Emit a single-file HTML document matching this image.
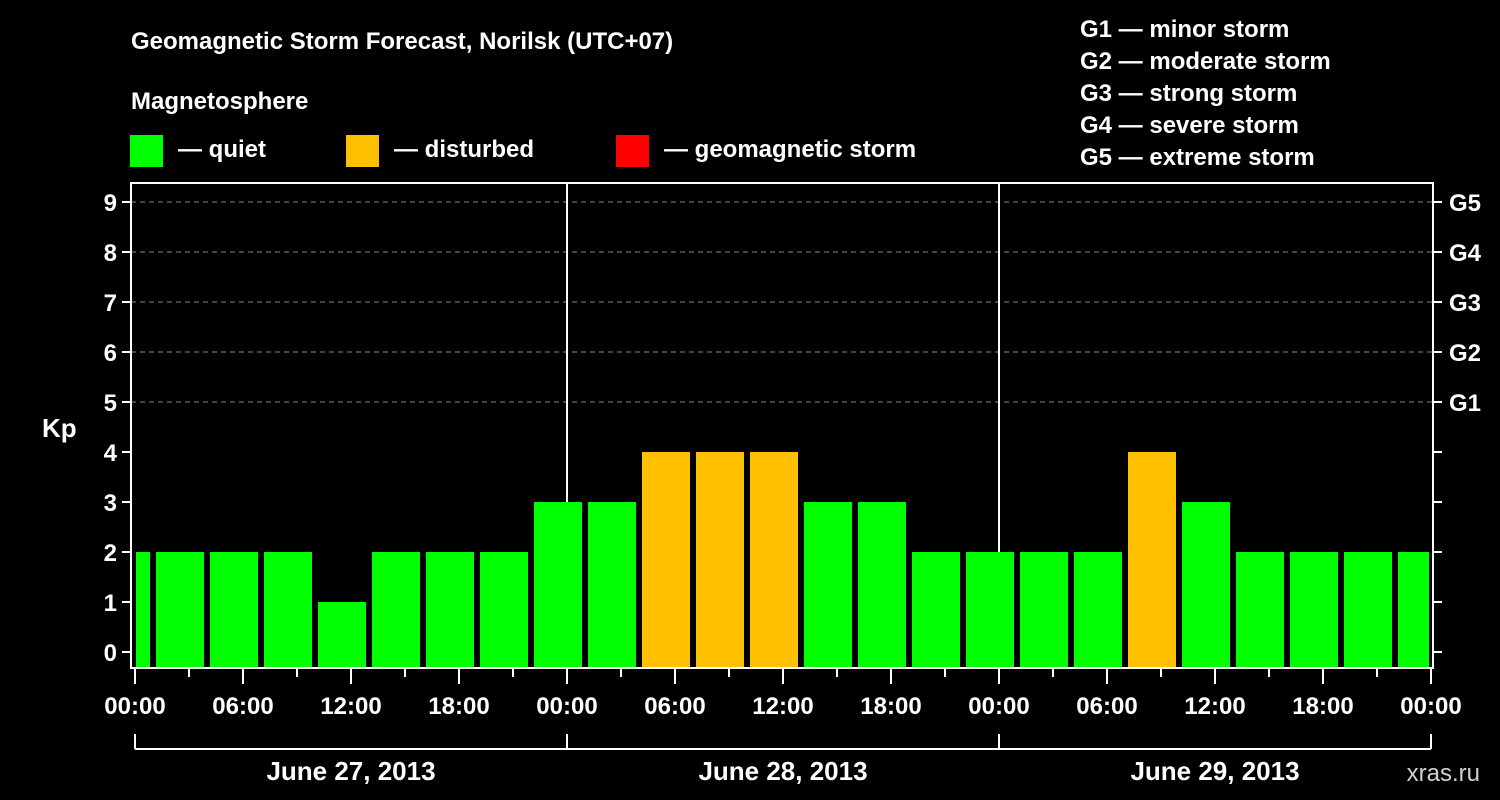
<!DOCTYPE html>
<html><head><meta charset="utf-8"><style>
html,body{margin:0;padding:0;background:#000;}
svg{display:block;font-family:"Liberation Sans",Arial,sans-serif;font-weight:bold;}
</style></head><body>
<svg id="chart" width="1500" height="800" viewBox="0 0 1500 800" xmlns="http://www.w3.org/2000/svg">
<rect width="1500" height="800" fill="#000"/>
<text x="131" y="49" fill="#fff" font-size="24">Geomagnetic Storm Forecast, Norilsk (UTC+07)</text>
<text x="131" y="109" fill="#fff" font-size="24">Magnetosphere</text>
<g>
<rect x="130" y="135" width="33" height="32" fill="#00ff00"/>
<text x="178" y="157" fill="#fff" font-size="24">— quiet</text></g>
<g>
<rect x="346" y="135" width="33" height="32" fill="#ffc000"/>
<text x="394" y="157" fill="#fff" font-size="24">— disturbed</text></g>
<g>
<rect x="616" y="135" width="33" height="32" fill="#ff0000"/>
<text x="664" y="157" fill="#fff" font-size="24">— geomagnetic storm</text></g>
<g fill="#fff" font-size="24">
<text x="1080" y="37">G1 — minor storm</text>
<text x="1080" y="69">G2 — moderate storm</text>
<text x="1080" y="101">G3 — strong storm</text>
<text x="1080" y="133">G4 — severe storm</text>
<text x="1080" y="165">G5 — extreme storm</text>
</g>
<g id="grid"></g>
<g id="bars"></g>
<g id="axes"></g>
<text x="42" y="437" fill="#fff" font-size="26">Kp</text>
<text x="1480" y="781" fill="#d0d0d0" font-size="24" font-weight="normal" text-anchor="end">xras.ru</text>
</svg>
<script>
const kpValues=[2,2,2,2,1,2,2,2,3,3,4,4,4,3,3,2,2,2,2,4,3,2,2,2,2];
const binStartHours=[-2,1,4,7,10,13,16,19,22,25,28,31,34,37,40,43,46,49,52,55,58,61,64,67,70];
const kpTicks=[0,1,2,3,4,5,6,7,8,9];
const gLabels=["G1","G2","G3","G4","G5"];
const gLevels=[5,6,7,8,9];
const hourTickLabels=["00:00","06:00","12:00","18:00","00:00","06:00","12:00","18:00","00:00","06:00","12:00","18:00","00:00"];
const dayLabels=["June 27, 2013","June 28, 2013","June 29, 2013"];

const NS="http://www.w3.org/2000/svg";
const X0=135,PXH=18,TOTALH=72,Y0=652,PXK=50,L=131,R=1433,T=183,B=668;
const x=h=>X0+h*PXH;
const y=k=>Y0-k*PXK;
function mk(parent,tag,attrs){const e=document.createElementNS(NS,tag);for(const k in attrs)e.setAttribute(k,attrs[k]);document.getElementById(parent).appendChild(e);return e;}

gLevels.forEach((k,i)=>{
  const ln=mk('grid','line',{x1:L,x2:R,y1:y(k),y2:y(k),stroke:'#888','stroke-dasharray':'5,4','stroke-width':1});
  
  
});
[24,48].forEach(h=>{
  const ln=mk('grid','line',{x1:x(h),x2:x(h),y1:T,y2:B,stroke:'#fff','stroke-width':2});
  
  
});

kpValues.forEach((v,i)=>{
  const s=Math.max(0,binStartHours[i]),e=Math.min(TOTALH,binStartHours[i]+3);
  const x1=x(s)+(binStartHours[i]<0?1:3),x2=x(e)-(binStartHours[i]+3>TOTALH?2:3);
  const col=v>=5?'#ff0000':(v>=4?'#ffc000':'#00ff00');
  const r=mk('bars','rect',{x:x1,y:y(v),width:x2-x1,height:B-1-y(v),fill:col});
  
  
});

const frame=mk('axes','rect',{x:L,y:T,width:R-L,height:B-T,fill:'none',stroke:'#fff','stroke-width':2});


kpTicks.forEach(k=>{
  mk('axes','line',{x1:L-9,x2:L,y1:y(k),y2:y(k),stroke:'#fff','stroke-width':2});
  mk('axes','line',{x1:R,x2:R+9,y1:y(k),y2:y(k),stroke:'#fff','stroke-width':2});
  const t=mk('axes','text',{x:117,y:y(k)+9,fill:'#fff','font-size':24,'text-anchor':'end'});
  t.textContent=k;
  
  
});
gLevels.forEach((k,i)=>{
  const t=mk('axes','text',{x:1449,y:y(k)+9,fill:'#fff','font-size':24});
  t.textContent=gLabels[i];
  
  
});
for(let h=0;h<=TOTALH;h+=3){
  const major=h%6===0;
  mk('axes','line',{x1:x(h),x2:x(h),y1:B,y2:major?684:677,stroke:'#fff','stroke-width':2});
}
hourTickLabels.forEach((lab,i)=>{
  const t=mk('axes','text',{x:x(i*6),y:714,fill:'#fff','font-size':24,'text-anchor':'middle'});
  t.textContent=lab;
  
  
});
const br=mk('axes','line',{x1:x(0),x2:x(TOTALH),y1:749,y2:749,stroke:'#fff','stroke-width':2});


[0,24,48,72].forEach(h=>mk('axes','line',{x1:x(h),x2:x(h),y1:734,y2:749,stroke:'#fff','stroke-width':2}));
dayLabels.forEach((d,i)=>{
  const t=mk('axes','text',{x:x(i*24+12),y:780,fill:'#fff','font-size':26,'text-anchor':'middle'});
  t.textContent=d;
  
  
});
</script>
</body></html>
